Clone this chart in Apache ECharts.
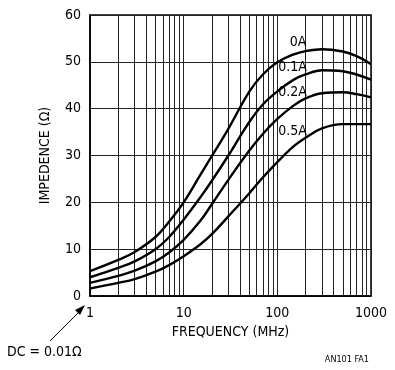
<!DOCTYPE html>
<html><head><meta charset="utf-8">
<script src="https://cdn.jsdelivr.net/npm/echarts@6/dist/echarts.min.js"></script>
<style>html,body{margin:0;padding:0;background:#fff}#c{width:395px;height:370px}</style>
</head><body><div id="c"></div>
<script>
// Frequency points (MHz)
const freq = [1, 2, 3, 5, 7, 10, 15, 20, 30, 50, 70, 100, 150, 200, 300, 500, 700, 1000];
// Impedance (ohm) per bias current
const z0A   = [5.3, 7.7, 9.4, 12.6, 15.9, 20.0, 25.8, 29.9, 35.7, 43.6, 47.3, 49.9, 51.6, 52.3, 52.7, 52.2, 51.2, 49.5];
const z01A  = [4.0, 6.0, 7.4, 10.0, 12.6, 16.3, 21.0, 24.6, 30.0, 37.1, 40.9, 43.7, 46.2, 47.3, 48.2, 48.0, 47.3, 46.2];
const z02A  = [2.8, 4.3, 5.4, 7.4, 9.3, 12.0, 16.0, 19.6, 24.8, 31.0, 34.6, 37.8, 40.7, 42.2, 43.3, 43.5, 43.1, 42.4];
const z05A  = [1.6, 2.8, 3.6, 5.2, 6.6, 8.5, 11.0, 13.2, 17.0, 21.9, 25.3, 28.6, 32.0, 33.8, 35.8, 36.7, 36.7, 36.7];
const seriesNames = ['0A', '0.1A', '0.2A', '0.5A'];
const xTicks = [1, 10, 100, 1000];
const minorGrid = [2,3,4,5,6,7,8,9,20,30,40,50,60,70,80,90,200,300,400,500,600,700,800,900];
const yTicks = [0, 10, 20, 30, 40, 50, 60];
const xName = 'FREQUENCY (MHz)';
const yName = 'IMPEDENCE (Ω)';
const dcNote = 'DC = 0.01Ω';
const figId = 'AN101 FA1';
// label anchor points in data space [freq, ohm]
const labelAt = [[166, 54.1], [145, 48.75], [145, 43.4], [145, 35.1]];

const FONT = "'Liberation Sans Narrow','Arial Narrow','DejaVu Sans Condensed',sans-serif";
const chart = echarts.init(document.getElementById('c'), null, {renderer: 'canvas'});
const allData = [z0A, z01A, z02A, z05A];

const series = allData.map((arr, i) => ({
  name: seriesNames[i],
  type: 'line',
  data: freq.map((f, k) => [f, arr[k]]),
  smooth: 0.4,
  showSymbol: false,
  symbol: 'none',
  lineStyle: {color: '#000', width: 2.4},
  z: 5,
  silent: true,
  markPoint: {
    symbol: 'circle', symbolSize: 0, silent: true,
    data: [{coord: labelAt[i], value: seriesNames[i]}],
    label: {show: true, position: 'inside', formatter: seriesNames[i], color: '#000',
            fontFamily: FONT, fontSize: 14}
  }
}));

series.push({
  type: 'line', data: [], silent: true,
  markLine: {
    silent: true, symbol: 'none', animation: false,
    label: {show: false},
    lineStyle: {color: '#222', width: 1, type: 'solid'},
    data: minorGrid.map(v => ({xAxis: v}))
  }
});

chart.setOption({
  animation: false,
  backgroundColor: '#fff',
  grid: {left: 90, right: 24, top: 15, bottom: 74, show: true, borderColor: '#000', borderWidth: 1.5, backgroundColor: 'transparent'},
  xAxis: {
    type: 'log', logBase: 10, min: xTicks[0], max: xTicks[xTicks.length - 1],
    name: xName, nameLocation: 'middle', nameGap: 27,
    nameTextStyle: {fontFamily: FONT, fontSize: 14, color: '#000'},
    axisLine: {show: true, lineStyle: {color: '#000', width: 1.5}},
    axisTick: {show: false},
    axisLabel: {color: '#000', fontFamily: FONT, fontSize: 14, margin: 10, formatter: v => String(v)},
    splitLine: {show: true, lineStyle: {color: '#222', width: 1}},
    minorTick: {show: false}
  },
  yAxis: {
    type: 'value', min: yTicks[0], max: yTicks[yTicks.length - 1], interval: 10,
    name: yName, nameLocation: 'middle', nameGap: 38, nameRotate: 90,
    nameTextStyle: {fontFamily: FONT, fontSize: 14, color: '#000'},
    axisLine: {show: true, lineStyle: {color: '#000', width: 1.5}},
    axisTick: {show: false},
    axisLabel: {color: '#000', fontFamily: FONT, fontSize: 14, margin: 9},
    splitLine: {show: true, lineStyle: {color: '#222', width: 1}}
  },
  series: series,
  graphic: [
    {type: 'text', left: 7, top: 345, style: {text: dcNote, fill: '#000', font: '14px ' + FONT}},
    {type: 'line', shape: {x1: 50, y1: 341, x2: 80, y2: 311}, style: {stroke: '#000', lineWidth: 1}},
    {type: 'polygon', shape: {points: [[85, 305], [75, 310], [80, 315]]}, style: {fill: '#000'}},
    {type: 'text', right: 26, top: 355, style: {text: figId, fill: '#000', font: '9px ' + FONT}}
  ]
});
</script></body></html>
